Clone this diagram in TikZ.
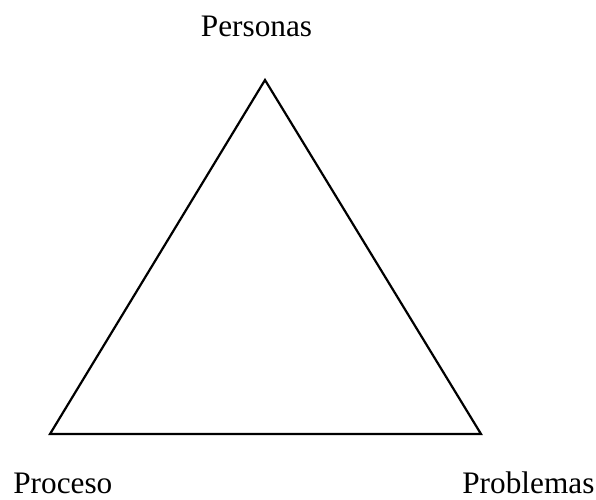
\documentclass[tikz,border=0pt]{standalone}
\usepackage{fontspec}
\setmainfont{Liberation Serif}
\usepackage{tikz}

\begin{document}
\begin{tikzpicture}[label/.style={inner sep=0pt,font=\fontsize{17.8}{21}\selectfont}]
	\useasboundingbox (0,0) rectangle (11.92,9.98);
	%
	\coordinate (top) at (5.30,8.38);
	\coordinate (left) at (1.00,1.30);
	\coordinate (right) at (9.62,1.30);
	%
	\draw[line width=1.25pt,line join=miter] (top) -- (left) -- (right) -- cycle;
	%
	\node[label,anchor=base] (personas) at (5.13,9.24) {Personas};
	\node[label,anchor=base west] (proceso) at (0.26,0.12) {Proceso};
	\node[label,anchor=base west] (problemas) at (9.24,0.12) {Problemas};
\end{tikzpicture}
\end{document}
